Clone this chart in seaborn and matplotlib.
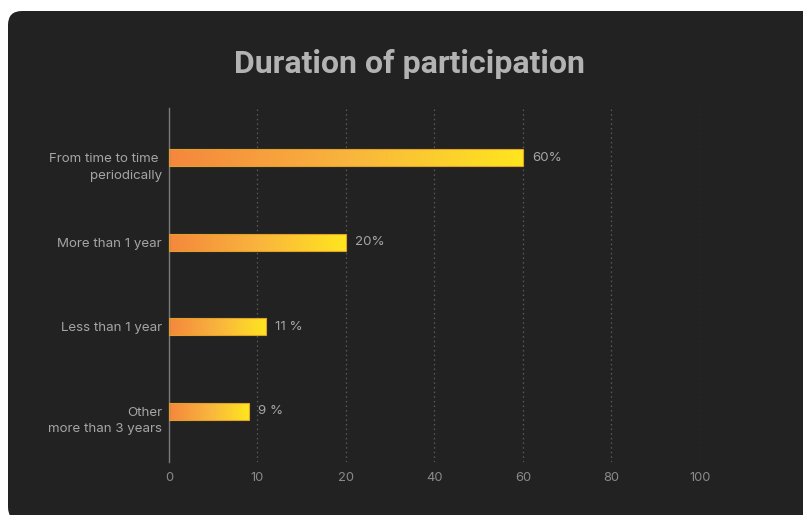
import numpy as np
import matplotlib
matplotlib.use("Agg")
import matplotlib.pyplot as plt
import seaborn as sns
from matplotlib.patches import FancyBboxPatch
from matplotlib.transforms import IdentityTransform, ScaledTranslation
from matplotlib.colors import LinearSegmentedColormap

# ---- data ----
categories = ["From time to time \nperiodically", "More than 1 year",
              "Less than 1 year", "Other\nmore than 3 years"]
values = [60, 20, 11, 9]
value_labels = ["60%", "20%", "11 %", "9 %"]
x_ticks = [0, 10, 20, 40, 60, 80, 100]
title = "Duration of participation"

sns.set_theme(style="dark")
plt.rcParams['font.family'] = ['Inter', 'DejaVu Sans']

W, H = 804, 515
fig = plt.figure(figsize=(W / 100, H / 100), dpi=100)
fig.patch.set_facecolor("white")

panel = FancyBboxPatch((8, -6), 810, 515 + 6 - 11,
                       boxstyle="round,pad=0,rounding_size=14",
                       transform=IdentityTransform(), facecolor="#222222",
                       edgecolor="none", zorder=-5)
fig.patches.append(panel)

ax = fig.add_axes([169 / W, 1 - 462 / H, (700 - 169) / W, (462 - 108) / H])
ax.set_facecolor("none")
ax.set_zorder(1)

# piecewise scale: ticks equally spaced
pos = np.arange(len(x_ticks), dtype=float)
fwd = lambda v: np.interp(v, x_ticks, pos)
inv = lambda p: np.interp(p, pos, x_ticks)
ax.set_xscale("function", functions=(fwd, inv))

sns.barplot(x=values, y=categories, orient="h", width=0.2, ax=ax,
            color="#F5A030", edgecolor="none", linewidth=0)

ax.set_xlim(0, 100)
ax.set_ylim(3.6, -0.59)
ax.set_xticks(x_ticks)
ax.set_xticklabels([str(t) for t in x_ticks])
ax.set_xlabel("")
ax.set_ylabel("")

for s in ["top", "right", "bottom"]:
    ax.spines[s].set_visible(False)
ax.spines["left"].set_visible(True)
ax.spines["left"].set_color("#7a7a7a")
ax.spines["left"].set_linewidth(1.0)

ax.grid(axis="x", linestyle=(0, (1.2, 2.5)), color="#5a5a5a", linewidth=0.9)
ax.grid(axis="y", visible=False)
ax.set_axisbelow(True)
gl = ax.get_xgridlines()
if gl:
    gl[0].set_visible(False)

ax.tick_params(axis="x", length=0, pad=7, labelsize=9.3, labelcolor="#8a8a8a")
ax.tick_params(axis="y", length=0, pad=5, labelsize=9.6, labelcolor="#a5a5a5")
for lab in ax.get_yticklabels():
    lab.set_va("top")
    lab.set_linespacing(1.5)
    lab.set_transform(lab.get_transform() + ScaledTranslation(0, 3.4 / 72, fig.dpi_scale_trans))

# gradient fill
cmap = LinearSegmentedColormap.from_list("og", ["#F5873C", "#F9B43E", "#FFE61F"])
grad = np.linspace(0, 1, 256).reshape(1, -1)
fig.canvas.draw()
to_axes = ax.transAxes.inverted()
for p in list(ax.patches):
    bb = p.get_window_extent()
    (x0, y0), (x1, y1) = to_axes.transform([[bb.x0, bb.y0], [bb.x1, bb.y1]])
    im = ax.imshow(grad, cmap=cmap, aspect="auto", extent=[x0, x1, y0, y1],
                   transform=ax.transAxes, interpolation="bilinear", zorder=2)
    im.set_clip_path(p)
    p.set_facecolor("none")
    p.set_edgecolor("#E2A22A")
    p.set_linewidth(0.8)
    p.set_zorder(3)

ax.set_xlim(0, 100)
ax.set_ylim(3.6, -0.59)

for i, (v, lab) in enumerate(zip(values, value_labels)):
    ax.annotate(lab, xy=(v, i), xytext=(9, 0), textcoords="offset pixels",
                ha="left", va="center", fontsize=9.6, color="#a5a5a5")

fig.text(409 / W, 1 - 64 / H, title, ha="center", va="center",
         fontsize=23, fontweight="bold", color="#b3b3b3", family="Roboto")

fig.savefig("out.png", dpi=100, facecolor=fig.get_facecolor())
